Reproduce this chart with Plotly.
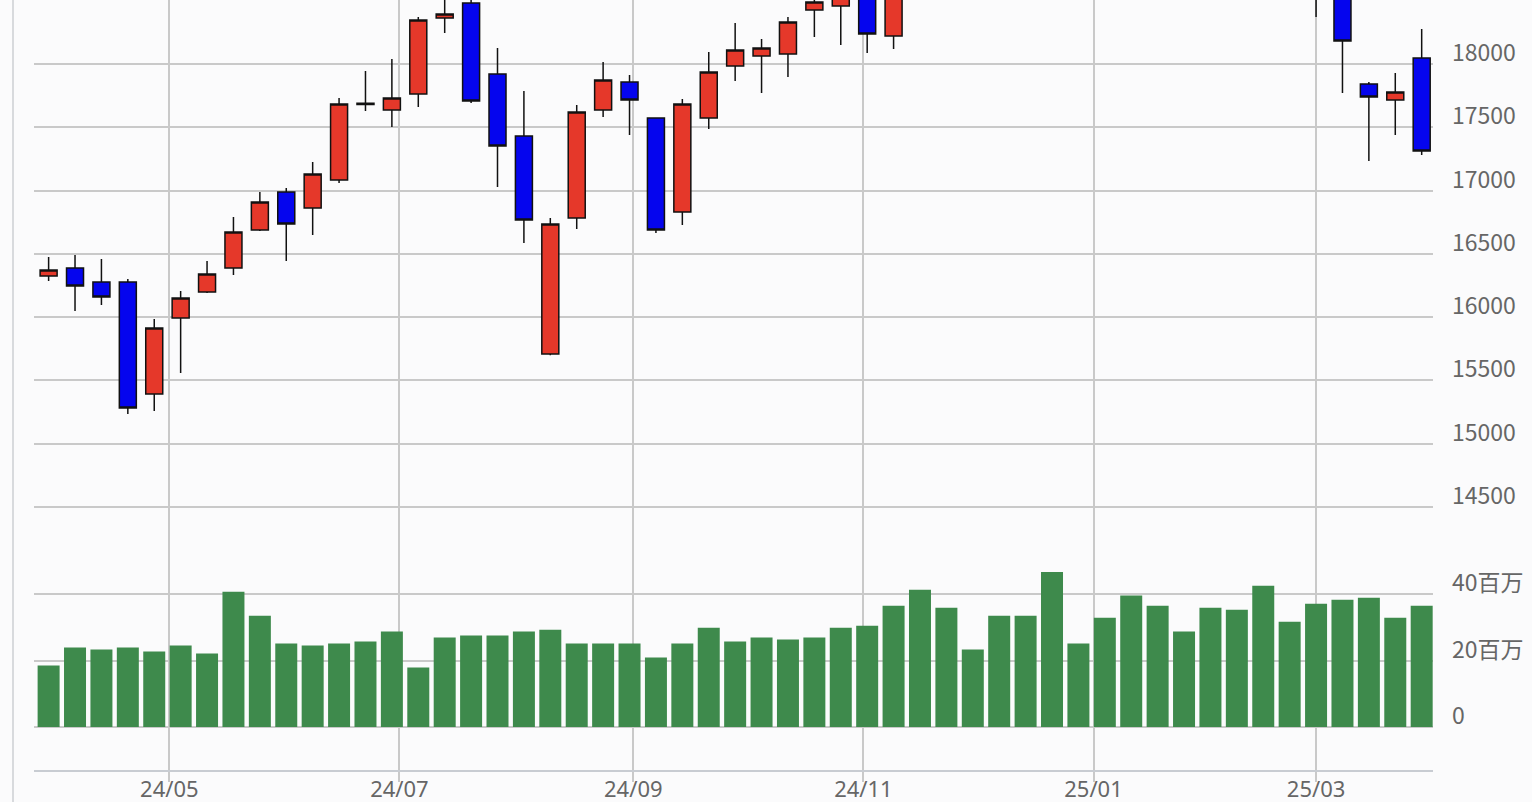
import pandas as pd
import plotly.graph_objects as go

# ---- data (weekly) ----
dates = pd.date_range("2024-03-30", periods=53, freq="7D")

opens = [16325, 16388, 16278, 16278, 15393, 15993, 16199, 16388, 16689, 16989,
         16862, 17084, 17680, 17637, 17763, 18363, 18482, 17921, 17431, 15709,
         16783, 17637, 17858, 17573, 16831, 17573, 17984, 18063, 18079, 18427,
         18458, 18700, 18221, 18700, 18850, 18950, 18800, 19100, 19000, 18750,
         18900, 19150, 19300, 19200, 19050, 19250, 19100, 18900, 18700, 18600,
         17842, 17716, 18047]
highs = [16475, 16491, 16460, 16302, 15986, 16207, 16444, 16791, 16989, 17020,
         17226, 17731, 17945, 18040, 18371, 18560, 18540, 18126, 17787, 16783,
         17676, 18016, 17913, 17580, 17724, 18095, 18324, 18198, 18371, 18560,
         18650, 18750, 18780, 18900, 19050, 19100, 19200, 19300, 19200, 19000,
         19250, 19400, 19500, 19350, 19300, 19450, 19200, 19000, 18850, 18700,
         17858, 17929, 18277]
lows = [16286, 16049, 16096, 15235, 15259, 15559, 16190, 16333, 16680, 16444,
        16649, 17060, 17629, 17502, 17660, 18245, 17692, 17028, 16586, 15700,
        16696, 17581, 17439, 16665, 16728, 17487, 17866, 17771, 17897, 18213,
        18150, 18087, 18119, 18560, 18700, 18750, 18700, 18900, 18650, 18600,
        18800, 19000, 19100, 18950, 18900, 19000, 18800, 18600, 18371, 17771,
        17234, 17439, 17281]
closes = [16373, 16246, 16159, 15282, 15914, 16151, 16341, 16673, 16910, 16736,
          17131, 17684, 17690, 17731, 18348, 18395, 17708, 17352, 16768, 16736,
          17621, 17874, 17716, 16689, 17684, 17937, 18111, 18126, 18332, 18490,
          18600, 18237, 18700, 18850, 18950, 18800, 19100, 19000, 18750, 18900,
          19150, 19300, 19200, 19050, 19250, 19100, 18900, 18700, 18600, 18182,
          17739, 17779, 17313]
volumes_m = [18.6, 24.0, 23.4, 24.0, 22.8, 24.6, 22.2, 40.8, 33.6, 25.2,
             24.6, 25.2, 25.8, 28.8, 18.0, 27.0, 27.6, 27.6, 28.8, 29.4,
             25.2, 25.2, 25.2, 21.0, 25.2, 30.0, 25.8, 27.0, 26.4, 27.0,
             30.0, 30.6, 36.6, 41.4, 36.0, 23.4, 33.6, 33.6, 46.8, 25.2,
             33.0, 39.7, 36.6, 28.8, 36.0, 35.4, 42.6, 31.8, 37.2, 38.4,
             39.0, 33.0, 36.6]
volumes = [v * 1e6 for v in volumes_m]

month_ticks = ["2024-05-01", "2024-07-01", "2024-09-01", "2024-11-01", "2025-01-01", "2025-03-01"]
month_labels = ["24/05", "24/07", "24/09", "24/11", "25/01", "25/03"]
price_ticks = [14500, 15000, 15500, 16000, 16500, 17000, 17500, 18000, 18500]
price_labels = ["14500", "15000", "15500", "16000", "16500", "17000", "17500", "18000", ""]
vol_ticks = [0, 20e6, 40e6, 60e6]
vol_labels = ["0", "20百万", "40百万", ""]

GRID = "#c9c9c9"
FONT = dict(family="Noto Sans CJK JP, Noto Sans, sans-serif", size=23, color="#666666")
XFONT = dict(family="Noto Sans, Noto Sans CJK JP, sans-serif", size=22, color="#666666")

fig = go.Figure()
fig.add_trace(go.Candlestick(
    x=dates, open=opens, high=highs, low=lows, close=closes,
    xaxis="x", yaxis="y",
    increasing=dict(fillcolor="#e5382a", line=dict(color="#111111", width=1.5)),
    decreasing=dict(fillcolor="#0505ee", line=dict(color="#111111", width=1.5)),
    whiskerwidth=0, showlegend=False, hoverinfo="skip",
))
fig.add_trace(go.Bar(
    x=dates, y=volumes, xaxis="x", yaxis="y2",
    marker=dict(color="#3e8a4c", line=dict(width=0)),
    showlegend=False, hoverinfo="skip",
))

W, H = 1532, 802
ml, mr, mt, mb = 34, 99, 0, 32
plot_h = H - mt - mb
split = (770 - 527.5) / plot_h

fig.update_layout(
    width=W, height=H,
    margin=dict(l=ml, r=mr, t=mt, b=mb, pad=0, autoexpand=False),
    paper_bgcolor="#fbfbfc", plot_bgcolor="#fbfbfc",
    boxgap=0.356, boxgroupgap=0, bargap=0.167,
    font=FONT, showlegend=False,
    xaxis=dict(
        type="date", range=["2024-03-26 03:00", "2025-04-01 00:00"],
        tickvals=month_ticks, ticktext=month_labels,
        showgrid=True, gridcolor=GRID, gridwidth=1.5,
        ticks="outside", ticklen=10, tickcolor=GRID, tickwidth=1.5,
        showline=True, linecolor="#c8ccd2", linewidth=1.5,
        zeroline=False, anchor="y2", rangeslider=dict(visible=False),
        tickfont=XFONT, ticklabelstandoff=-11, automargin=False,
    ),
    yaxis=dict(
        domain=[split, 1], range=[14338, 18506], side="right", anchor="x",
        tickvals=price_ticks, ticktext=price_labels,
        showgrid=True, gridcolor=GRID, gridwidth=1.5, zeroline=False,
        ticks="", ticklabelposition="outside top", ticklabelstandoff=18,
        ticklabelshift=5, tickfont=FONT, automargin=False,
    ),
    yaxis2=dict(
        domain=[0, split], range=[-12.93e6, 60.2e6], side="right", anchor="x",
        tickvals=vol_ticks, ticktext=vol_labels,
        showgrid=True, gridcolor=GRID, gridwidth=1.5, zeroline=False,
        ticks="", ticklabelposition="outside top", ticklabelstandoff=18,
        ticklabelshift=5, tickfont=FONT, automargin=False,
    ),
    shapes=[dict(type="line", xref="paper", yref="paper",
                 x0=(13 - ml) / (W - ml - mr), x1=(13 - ml) / (W - ml - mr),
                 y0=-mb / plot_h, y1=1.0,
                 line=dict(color="#d8dadd", width=2))],
)

fig.write_html("out.html", config={"displayModeBar": False},
               post_script="document.body.style.margin='0';document.body.style.background='#fbfbfc';")
